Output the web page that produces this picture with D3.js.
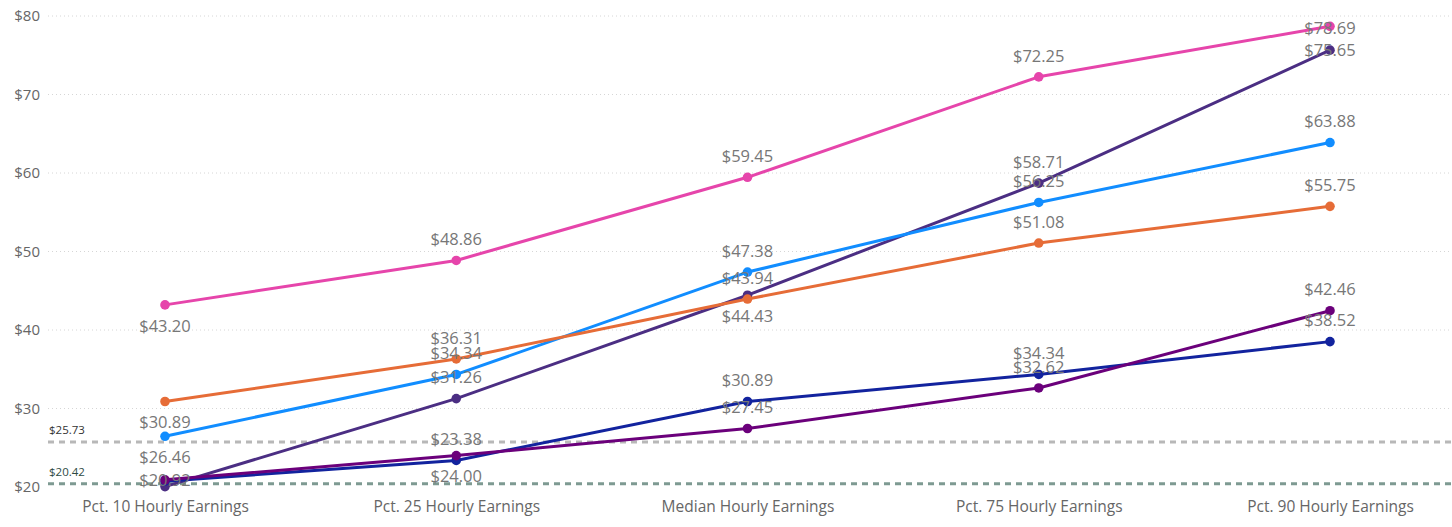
<!DOCTYPE html>
<html><head><meta charset="utf-8">
<script src="https://cdn.jsdelivr.net/npm/d3@7"></script>
<style>body{margin:0;background:#fff;}svg{display:block;font-family:"Segoe UI","Open Sans","Noto Sans",sans-serif;}</style>
</head><body><svg id="c" width="1452" height="527"></svg>
<script>
const categories = ["Pct. 10 Hourly Earnings","Pct. 25 Hourly Earnings","Median Hourly Earnings","Pct. 75 Hourly Earnings","Pct. 90 Hourly Earnings"];
const yTicks = [20,30,40,50,60,70,80];
const seriesNames = ["A","B","C","D","E","F"];
const seriesColors = ["#E645AB","#4B2E83","#118DFF","#E66C37","#12239E","#6B007B"];
const valuesA = [43.20,48.86,59.45,72.25,78.69];
const valuesB = [20.05,31.26,44.43,58.71,75.65];
const valuesC = [26.46,34.34,47.38,56.25,63.88];
const valuesD = [30.89,36.31,43.94,51.08,55.75];
const valuesE = [20.74,23.38,30.89,34.34,38.52];
const valuesF = [20.92,24.00,27.45,32.62,42.46];
// label placement: a = above, b = below, c = centered, n = hidden
const labelPosA = ["b","a","a","a","c"];
const labelPosB = ["n","a","b","a","c"];
const labelPosC = ["b","a","a","a","a"];
const labelPosD = ["b","a","a","a","a"];
const labelPosE = ["n","a","a","a","a"];
const labelPosF = ["c","b","a","a","a"];
const refValues = [25.73,20.42];
const refColors = ["#B8B8B8","#7E9A92"];

const allValues = [valuesA,valuesB,valuesC,valuesD,valuesE,valuesF];
const allPos = [labelPosA,labelPosB,labelPosC,labelPosD,labelPosE,labelPosF];

const svg = d3.select("#c");
const left = 48, right = 1452;
const x = d3.scalePoint().domain(categories).range([165,1330]);
const y = d3.scaleLinear().domain([20,80]).range([487,16]);
const fmt = d => "$" + d3.format(".2f")(d);

// gridlines
svg.append("g").selectAll("line").data(yTicks.filter(t=>t>20)).join("line")
  .attr("x1",left).attr("x2",right).attr("y1",d=>y(d)).attr("y2",d=>y(d))
  .attr("stroke","#D6D6D6").attr("stroke-width",1).attr("stroke-dasharray","1,3");

// y axis
const yAxis = d3.axisLeft(y).tickValues(yTicks).tickFormat(d=>"$"+d).tickSize(0).tickPadding(0);
const yg = svg.append("g").attr("transform",`translate(40,0)`).call(yAxis);
yg.select(".domain").remove();
yg.selectAll("text").attr("fill","#666").attr("font-size",15).attr("font-family","'Segoe UI','Open Sans',sans-serif");

// x axis
const xAxis = d3.axisBottom(x).tickSize(0).tickPadding(0);
const xg = svg.append("g").attr("transform",`translate(0,501)`).call(xAxis);
xg.select(".domain").remove();
xg.selectAll("text").attr("fill","#666").attr("font-size",15.5).attr("font-family","'Segoe UI','Open Sans',sans-serif");

// reference lines
refValues.forEach((v,i)=>{
  svg.append("line").attr("x1",left).attr("x2",right).attr("y1",y(v)).attr("y2",y(v))
    .attr("stroke",refColors[i]).attr("stroke-width",3).attr("stroke-dasharray","6,5");
  svg.append("text").attr("x",left+1).attr("y",y(v)-8).text(fmt(v))
    .attr("font-size",11.5).attr("fill", i===0 ? "#333" : "#2E4A44");
});

// lines
const line = d3.line().x((d,i)=>x(categories[i])).y(d=>y(d));
allValues.forEach((vals,s)=>{
  svg.append("path").datum(vals).attr("d",line).attr("fill","none")
    .attr("stroke",seriesColors[s]).attr("stroke-width",3).attr("stroke-linejoin","round");
});
allValues.forEach((vals,s)=>{
  svg.append("g").selectAll("circle").data(vals).join("circle")
    .attr("cx",(d,i)=>x(categories[i])).attr("cy",d=>y(d)).attr("r",4.8)
    .attr("fill",seriesColors[s]);
});
// labels
allValues.forEach((vals,s)=>{
  vals.forEach((v,i)=>{
    const p = allPos[s][i];
    if(p==="n") return;
    let ty = y(v);
    if(p==="a") ty -= 21; else if(p==="b") ty += 21;
    ty = Math.max(28, Math.min(487, ty));
    svg.append("text").attr("x",x(categories[i])).attr("y",ty).attr("dy","0.35em")
      .attr("text-anchor","middle").attr("font-size",16.5).attr("fill","#777")
      .text(fmt(v));
  });
});
</script></body></html>
